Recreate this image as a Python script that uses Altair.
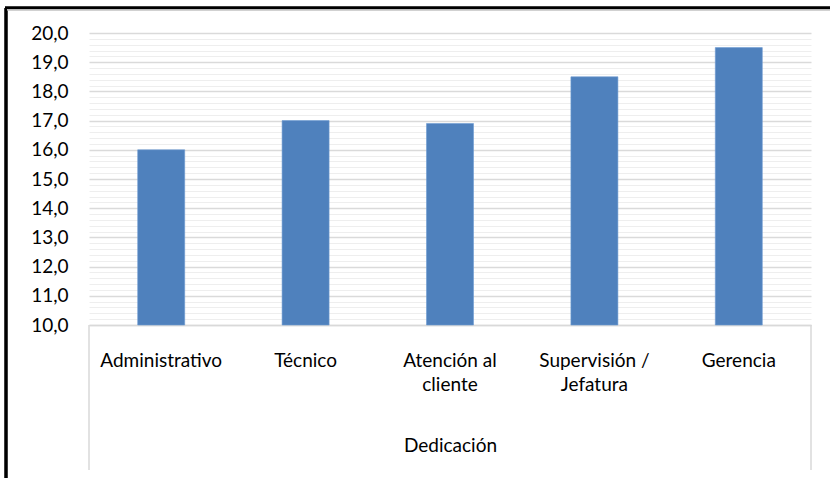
import altair as alt
import pandas as pd

categories = ["Administrativo", "Técnico", "Atención al cliente", "Supervisión / Jefatura", "Gerencia"]
values = [16.0, 17.0, 16.9, 18.5, 19.5]
label_lines = {
    "Atención al cliente": ["Atención al", "cliente"],
    "Supervisión / Jefatura": ["Supervisión /", "Jefatura"],
}
y_ticks = [round(10 + 0.2 * i, 1) for i in range(51)]

df = pd.DataFrame({"cat": categories, "val": values})

FONT = "Lato"
FS = 19
W, H = 722, 292

label_expr = " : ".join(
    [f"datum.label == '{k}' ? {v!r}" for k, v in label_lines.items()] + ["datum.label"]
)

x_enc = alt.X(
    "cat:N",
    sort=categories,
    scale=alt.Scale(paddingInner=0, paddingOuter=0),
    axis=alt.Axis(
        title="Dedicación",
        labelAngle=0,
        labelExpr=label_expr,
        labelFont=FONT,
        labelFontSize=FS,
        labelColor="black",
        labelBaseline="alphabetic",
        labelPadding=41,
        labelLineHeight=24,
        ticks=False,
        tickSize=0,
        domainColor="#d9d9d9",
        domainWidth=1.5,
        titleFont=FONT,
        titleFontSize=FS,
        titleFontWeight="normal",
        titleColor="black",
        titleBaseline="alphabetic",
        titleY=126,
        grid=False,
    ),
)

is_major = "abs(datum.value - round(datum.value)) < 0.01"

y_enc = alt.Y(
    "val:Q",
    scale=alt.Scale(domain=[10, 20], zero=False, nice=False),
    axis=alt.Axis(
        title=None,
        values=y_ticks,
        labelExpr=f"{is_major} ? replace(format(datum.value, '.1f'), '.', ',') : ''",
        labelFont=FONT,
        labelFontSize=FS,
        labelColor="black",
        labelPadding=21,
        labelOverlap=False,
        ticks=False,
        tickSize=0,
        domain=False,
        grid=True,
        gridColor=alt.ConditionalAxisColor(condition={"test": is_major, "value": "#dadada"}, value="#eeeeee"),
        gridWidth=alt.ConditionalAxisNumber(condition={"test": is_major, "value": 1.5}, value=1),
    ),
)

bars = alt.Chart(df).mark_bar(size=47, color="#4F81BD", stroke="#6d9bd1", strokeWidth=0.6).encode(
    x=x_enc, y=y_enc, y2=alt.datum(10)
)

edge_df = pd.DataFrame({"px": [0, W]})
edges = alt.Chart(edge_df).mark_rule(color="#d9d9d9", strokeWidth=1.5).encode(
    x=alt.X("px:Q", scale=None), y=alt.value(H), y2=alt.value(H + 145)
)

frame_left = alt.Chart(df).mark_rule(color="black", strokeWidth=2.5).encode(
    x=alt.value(-83), y=alt.value(-25), y2=alt.value(H + 200)
)
frame_top = alt.Chart(df).mark_rule(color="black", strokeWidth=2.5).encode(
    x=alt.value(-84), x2=alt.value(W + 40), y=alt.value(-25)
)
frame_top_grey = alt.Chart(df).mark_rule(color="#bbbbbb", strokeWidth=1).encode(
    x=alt.value(-82), x2=alt.value(W + 40), y=alt.value(-23.3)
)

chart = (
    alt.layer(bars, edges, frame_left, frame_top, frame_top_grey)
    .properties(
        width=W,
        height=H,
        autosize=alt.AutoSizeParams(type="none"),
        padding={"left": 89, "top": 33, "right": 19, "bottom": 153},
        background="white",
    )
    .configure_view(stroke=None)
)

chart.save("out.html", embed_options={"renderer": "svg", "actions": False})
